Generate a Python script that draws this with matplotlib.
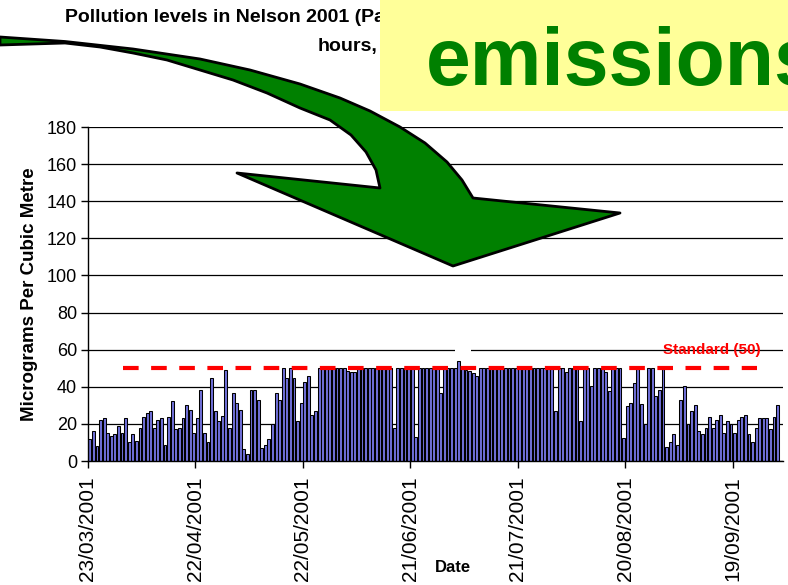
import numpy as np
import matplotlib.pyplot as plt
from matplotlib.patches import Polygon, Rectangle

plt.rcParams['font.family'] = ['Liberation Sans', 'DejaVu Sans']

# daily PM10 (ug/m3), 23/03/2001 onwards
pm10 = [
    12, 16, 8, 22, 23, 15, 13.5, 14.5, 19, 15,
    23, 10, 14.5, 11, 18, 23.5, 26, 27, 18, 22,
    23, 8.5, 23.5, 32.5, 17.5, 18, 23, 30, 27.5, 15,
    23, 38, 15, 10, 45, 27, 21.5, 24, 49, 18,
    36.5, 31, 27.5, 6.5, 4, 38.5, 38.5, 33, 7, 8.5,
    12, 20, 36.5, 33, 50, 45, 50, 44.5, 21.5, 31,
    42.5, 46, 25, 27, 50, 50, 50, 50, 50, 50,
    50, 50, 48.5, 48, 48, 50, 50, 50, 50, 50,
    50, 50, 50, 50, 50, 18, 50, 50, 50, 50,
    50, 13, 50, 50, 50, 50, 50, 50, 36.5, 50,
    50, 50, 50, 54, 50, 49, 48.5, 47.5, 46, 50,
    50, 50, 50, 50, 50, 50, 50, 50, 50, 50,
    50, 50, 50, 50, 50, 50, 50, 50, 50, 50,
    27, 50, 50, 48, 50, 50, 50, 21.5, 50, 50,
    40.5, 50, 50, 50, 48, 37.5, 50, 50, 50, 12.5,
    29.5, 31, 42, 50, 30.5, 20, 50, 50, 35, 38.5,
    50, 7.5, 10, 14.5, 8.5, 33, 40.5, 20, 27, 30,
    16, 14.5, 18, 23.5, 18, 22, 25, 15, 21.5, 20,
    15, 22, 23.5, 25, 14.5, 10, 18, 23, 23, 23,
    17, 23.5, 30,
]
tick_days = [0, 30, 60, 90, 120, 150, 180]
tick_labels = ['23/03/2001', '22/04/2001', '22/05/2001', '21/06/2001',
               '21/07/2001', '20/08/2001', '19/09/2001']
STANDARD = 50
std_span = (9.8, 186.7)          # days covered by the dashed standard line

W, H = 788, 585
fig = plt.figure(figsize=(W / 100, H / 100), dpi=100)
ax = fig.add_axes([88 / W, 1 - 461 / H, (783 - 88) / W, (461 - 127) / H])

def px(x, y):
    return (x / W, 1 - y / H)

# bars
days = np.arange(len(pm10)) + 0.5
ax.bar(days, pm10, width=0.8, color='#7070D8', edgecolor='black',
       linewidth=0.75, zorder=2)

ax.set_xlim(0, 194)
ax.set_ylim(0, 180)
ax.set_yticks(range(0, 181, 20))
ax.yaxis.grid(True, color='black', linewidth=0.9)
ax.set_axisbelow(True)
for s in ['top', 'right']:
    ax.spines[s].set_visible(False)
for s in ['left', 'bottom']:
    ax.spines[s].set_linewidth(1.0)
ax.tick_params(axis='y', length=5, width=1, labelsize=13, pad=3)
ax.set_xticks(tick_days)
ax.set_xticklabels(tick_labels, rotation=90, fontsize=15)
ax.tick_params(axis='x', length=5, width=1, pad=6)

# air quality standard
ax.hlines(STANDARD, *std_span, colors='#FF0000', linewidth=3,
          linestyles=(0, (3.75, 3)), zorder=3)
ax.text(174, 60, 'Standard (50)', color='#FF0000', fontsize=11,
        fontweight='bold', ha='center', va='center', zorder=3)

ax.set_ylabel('Micrograms Per Cubic Metre', fontsize=13.5, fontweight='bold',
              labelpad=6)
fig.text(*px(453, 567), 'Date', fontsize=12, fontweight='bold',
         ha='center', va='center')

# title (two lines, partly under the callout)
fig.text(*px(65, 18), 'Pollution levels in Nelson 2001 (Particulate',
         fontsize=14, fontweight='bold', va='center')
fig.text(*px(318, 47), 'hours,', fontsize=14, fontweight='bold', va='center')

# small break in the 60 gridline
fig.patches.append(Rectangle(px(455, 352), 16 / W, 6 / H, transform=fig.transFigure,
                             facecolor='white', edgecolor='none', zorder=4))

# curved green arrow
outer = [(0, 37), (65, 41.5), (133, 49), (200, 59), (250, 70), (300, 84),
         (340, 98), (370, 111), (400, 127), (425, 143), (447, 162),
         (462, 180), (473, 198)]
head = [(620, 213), (453, 266), (237, 173), (380, 188)]
inner = [(376, 170), (366, 152), (351, 135), (330, 120), (300, 108),
         (267, 93), (233, 80), (200, 70), (167, 60), (133, 53), (100, 47),
         (65, 43), (0, 45)]
arrow_pts = [px(x, y) for x, y in outer + head + inner]
fig.patches.append(Polygon(arrow_pts, closed=True, transform=fig.transFigure,
                           facecolor='#008000', edgecolor='black', linewidth=2,
                           joinstyle='round', zorder=5))

# yellow callout
fig.patches.append(Rectangle(px(380, 111), (W - 380) / W, 111 / H,
                             transform=fig.transFigure, facecolor='#FFFF99',
                             edgecolor='none', zorder=6))
fig.text(*px(426, 85), 'emissions', fontsize=58, fontweight='bold',
         color='#008000', va='baseline', ha='left', zorder=7)

fig.savefig('out.png', dpi=100)
